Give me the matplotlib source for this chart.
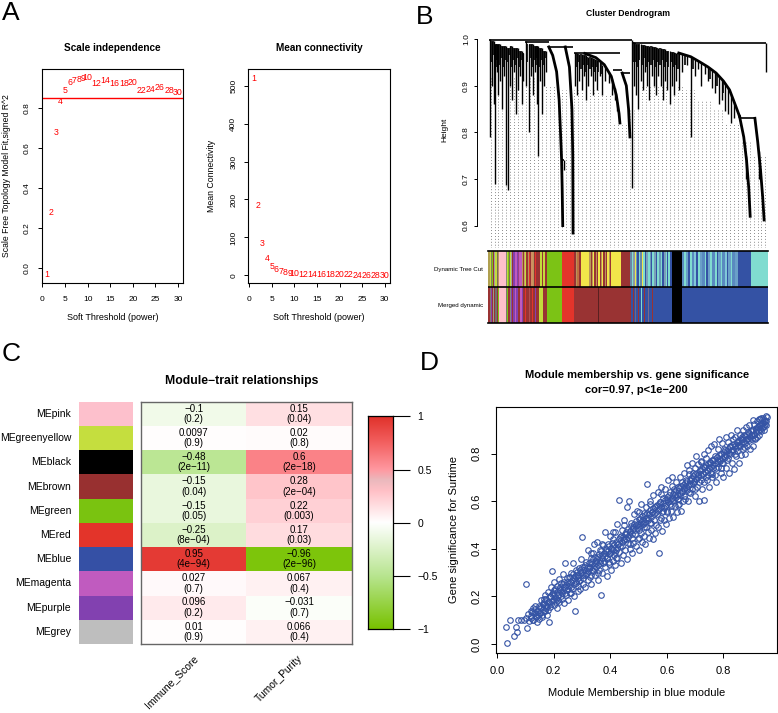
import numpy as np
import matplotlib
matplotlib.use('Agg')
import matplotlib.pyplot as plt
from matplotlib.colors import LinearSegmentedColormap

plt.rcParams['font.family'] = ['Liberation Sans', 'DejaVu Sans']

# ---------------- data ----------------
# panel A: soft threshold selection
powers = [1, 2, 3, 4, 5, 6, 7, 8, 9, 10, 12, 14, 16, 18, 20, 22, 24, 26, 28, 30]
sft_r2 = [-0.03, 0.28, 0.68, 0.835, 0.89, 0.928, 0.94, 0.945, 0.947, 0.953,
          0.925, 0.938, 0.925, 0.923, 0.927, 0.887, 0.893, 0.902, 0.887, 0.88]
mean_k = [520, 185, 83, 43, 24.5, 16, 11, 8, 6, 4.5,
          3, 2, 1.5, 1.2, 1, 0.8, 0.6, 0.5, 0.4, 0.35]

# panel B: dendrogram (leaf position in %, heights)
dendro_merges = [(0, 51.3, 0.997), (51.3, 99.4, 0.991), (13.0, 21.6, 0.993),
                 (21.6, 30.3, 0.983), (30.5, 47.0, 0.969), (44.8, 47.9, 0.934),
                 (47.9, 50.7, 0.927), (90.0, 95.5, 0.83), (26.2, 26.9, 0.74)]
dendro_drops = [
    (0.5, 1.0, 0.79), (1.2, 0.995, 0.90), (1.8, 0.995, 0.86), (2.3, 0.99, 0.69),
    (2.9, 0.99, 0.93), (3.5, 0.99, 0.88), (4.1, 0.99, 0.91), (4.8, 0.985, 0.85),
    (5.4, 0.985, 0.92), (6.2, 0.985, 0.687), (7.0, 0.98, 0.676), (7.6, 0.985, 0.90),
    (8.3, 0.985, 0.87), (9.0, 0.98, 0.93), (9.7, 0.98, 0.84), (10.5, 0.98, 0.89),
    (11.2, 0.975, 0.92), (11.9, 0.975, 0.86), (12.5, 0.97, 0.91),
    (13.3, 0.995, 0.90), (14.5, 0.99, 0.80), (15.2, 0.99, 0.92), (15.9, 0.99, 0.88),
    (16.6, 0.985, 0.93), (17.3, 0.985, 0.86), (17.8, 0.985, 0.75), (18.5, 0.98, 0.91),
    (19.2, 0.98, 0.84), (19.9, 0.975, 0.90), (20.6, 0.975, 0.93), (26.9, 0.74, 0.72),
    (31.0, 0.97, 0.90), (31.8, 0.97, 0.88), (32.6, 0.968, 0.91), (33.4, 0.968, 0.89),
    (34.2, 0.965, 0.92), (35.0, 0.965, 0.87), (35.8, 0.962, 0.90), (36.6, 0.962, 0.92),
    (37.4, 0.96, 0.88), (38.2, 0.958, 0.91), (39.0, 0.955, 0.89), (39.8, 0.95, 0.92),
    (40.6, 0.945, 0.88), (41.9, 0.942, 0.91), (43.2, 0.93, 0.905), (44.4, 0.915, 0.88),
    (45.2, 0.895, 0.87), (46.2, 0.865, 0.845), (51.3, 0.997, 0.68),
    (52.0, 0.994, 0.90), (52.8, 0.99, 0.88), (53.7, 0.99, 0.85), (54.5, 0.99, 0.91),
    (55.3, 0.988, 0.89), (56.1, 0.988, 0.93), (56.9, 0.985, 0.90), (57.7, 0.985, 0.87),
    (58.5, 0.985, 0.92), (59.3, 0.982, 0.90), (60.1, 0.982, 0.88), (60.9, 0.98, 0.92),
    (61.7, 0.98, 0.90), (62.5, 0.978, 0.87), (63.3, 0.978, 0.91), (64.1, 0.975, 0.89),
    (64.9, 0.975, 0.86), (65.7, 0.972, 0.90), (66.5, 0.972, 0.88), (67.3, 0.97, 0.91),
    (68.2, 0.97, 0.89), (69.5, 0.968, 0.93), (71.0, 0.965, 0.945), (72.7, 0.961, 0.79),
    (74.0, 0.956, 0.92), (75.0, 0.953, 0.935), (76.3, 0.948, 0.90), (77.5, 0.944, 0.925),
    (78.7, 0.94, 0.91), (80.0, 0.934, 0.895), (81.2, 0.928, 0.885), (82.5, 0.92, 0.86),
    (83.6, 0.913, 0.87), (84.8, 0.905, 0.845), (85.8, 0.896, 0.84), (87.0, 0.88, 0.82),
    (88.0, 0.866, 0.83), (92.2, 0.75, 0.70), (96.8, 0.76, 0.70), (99.4, 0.991, 0.93)]
# short branches that fill the dense top of each cluster
dendro_twigs = [
    (0.85, 0.995, 0.95), (1.5, 0.995, 0.965), (2.6, 0.99, 0.94), (3.2, 0.99, 0.955),
    (3.8, 0.99, 0.945), (4.45, 0.985, 0.96), (5.1, 0.985, 0.94), (5.8, 0.985, 0.955),
    (6.6, 0.98, 0.95), (7.3, 0.98, 0.965), (7.95, 0.985, 0.94), (8.65, 0.98, 0.955),
    (9.35, 0.98, 0.945), (10.1, 0.98, 0.96), (10.85, 0.975, 0.94), (11.55, 0.975, 0.955),
    (12.2, 0.97, 0.945), (13.9, 0.99, 0.95), (14.85, 0.99, 0.96), (15.55, 0.99, 0.94),
    (16.25, 0.985, 0.955), (16.95, 0.985, 0.945), (17.55, 0.985, 0.96), (18.15, 0.98, 0.94),
    (18.85, 0.98, 0.955), (19.55, 0.975, 0.945), (20.25, 0.975, 0.96),
    (31.4, 0.97, 0.94), (32.2, 0.968, 0.95), (33.0, 0.968, 0.935), (33.8, 0.965, 0.945),
    (34.6, 0.965, 0.93), (35.4, 0.962, 0.945), (36.2, 0.962, 0.935), (37.0, 0.96, 0.94),
    (37.8, 0.958, 0.93), (38.6, 0.955, 0.94), (39.4, 0.952, 0.93), (40.2, 0.948, 0.925),
    (51.7, 0.994, 0.95), (52.4, 0.992, 0.95), (53.25, 0.99, 0.94), (54.1, 0.99, 0.955),
    (54.9, 0.988, 0.945), (55.7, 0.988, 0.96), (56.5, 0.985, 0.94), (57.3, 0.985, 0.95),
    (58.1, 0.985, 0.945), (58.9, 0.982, 0.955), (59.7, 0.982, 0.94), (60.5, 0.98, 0.95),
    (61.3, 0.98, 0.945), (62.1, 0.978, 0.955), (62.9, 0.978, 0.94), (63.7, 0.975, 0.95),
    (64.5, 0.975, 0.94), (65.3, 0.972, 0.95), (66.1, 0.972, 0.94), (66.9, 0.97, 0.945),
    (67.8, 0.97, 0.935), (70.3, 0.967, 0.945), (73.3, 0.959, 0.935), (79.4, 0.937, 0.915),
    (82.0, 0.923, 0.9), (84.2, 0.909, 0.885)]
dendro_arcs = [
    [(21.6, 0.983), (23.0, 0.965), (24.4, 0.93), (25.3, 0.87), (25.8, 0.80),
     (26.2, 0.74), (26.4, 0.68), (26.6, 0.60)],
    [(27.5, 0.983), (29.0, 0.94), (29.9, 0.85), (30.2, 0.75), (30.3, 0.584)],
    [(34.5, 0.969), (38.5, 0.96), (41.5, 0.945), (44.0, 0.92), (45.8, 0.88),
     (46.8, 0.84), (47.1, 0.82)],
    [(47.9, 0.927), (49.4, 0.90), (50.2, 0.85), (50.7, 0.79)],
    [(68.2, 0.97), (72.5, 0.962), (75.7, 0.951), (78.7, 0.94), (81.6, 0.927),
     (84.2, 0.91), (86.4, 0.891), (88.7, 0.855), (90.0, 0.834)],
    [(90.0, 0.834), (91.5, 0.79), (92.5, 0.74), (93.3, 0.68), (93.8, 0.62)],
    [(95.5, 0.83), (96.5, 0.78), (97.5, 0.72), (98.3, 0.66), (98.8, 0.612)]]
guide_start = [0.92, 0.92, 0.92, 0.92, 0.90, 0.89, 0.89, 0.89, 0.88, 0.82,
               0.85, 0.90, 0.90, 0.90, 0.89, 0.87, 0.85, 0.82, 0.78, 0.75]

GY, PK, BR, GN, RD = '#c3dc3c', '#ffc0cb', '#993333', '#7cc315', '#e3342b'
YE, TQ, BL, BK, MG, PU = '#f2e64a', '#80dcd0', '#3452a4', '#000000', '#c05bbf', '#8340b0'
TAN, SB = '#b8965a', '#6b9ab8'
dynamic_colors = [
    (4, '#b0a050'), (3, GY), (4, '#8a7a60'), (3, GN), (4, BR), (3, '#a0a0a0'),
    (4, GY), (3, '#7a6a5a'), (3, TAN), (2, GY), (20, PK),
    (3, '#8a8a7a'), (3, GY), (4, GN), (3, '#8a6a50'), (3, GY), (3, '#a0a0a0'), (3, BR),
    (6, PU), (4, MG), (5, PU), (3, '#a04080'), (7, MG),
    (4, TAN), (3, BR), (4, '#c8a070'), (3, GY), (4, BR), (3, TAN), (5, RD), (3, BR),
    (4, '#d09060'), (3, TAN), (5, BR), (3, RD), (6, BR),
    (6, BR), (4, GY), (5, BR), (4, GY), (6, BR), (45, GN), (37, RD),
    (5, BR), (4, TAN), (5, '#c07040'), (6, BR), (26, YE),
    (4, TAN), (3, BR), (5, TAN), (3, YE), (4, BR), (4, TAN), (4, BR),
    (4, YE), (3, BR), (4, TAN), (3, YE), (5, BR), (4, TAN), (3, BR), (5, YE), (3, TAN), (3, BR),
    (30, YE), (28, BR),
    (6, '#6a88a8'), (4, TQ), (5, '#8a9aa8'), (4, YE), (3, SB), (5, BL), (4, TQ),
    (6, '#6a88a8'), (3, YE), (5, TQ), (4, BL), (6, '#7aa0b8'), (4, TQ), (5, SB), (3, BL),
    (6, TQ), (4, '#7aa0b8'), (5, BL), (6, TQ), (4, SB), (5, TQ), (4, BL), (6, '#7aa0b8'),
    (5, TQ), (3, BL), (4, TQ), (6, BL), (30, BK),
    (8, '#5a8ac0'), (5, TQ), (7, '#6aa0c8'), (4, BL), (6, TQ), (8, '#5a8ac0'), (5, '#80c8d8'),
    (6, BL), (7, TQ), (5, '#6aa0c8'), (8, '#5a8ac0'), (4, TQ), (6, BL), (7, '#6aa0c8'),
    (5, TQ), (8, '#5a8ac0'), (6, TQ), (5, BL), (7, '#6aa0c8'), (4, TQ), (8, '#5a8ac0'),
    (6, '#80c8d8'), (5, BL), (7, '#6aa0c8'), (5, TQ), (8, '#5a8ac0'), (10, '#6aa0c8'),
    (37, BL), (53, TQ)]
merged_colors = [
    (4, BR), (3, '#8a7a6a'), (4, PU), (3, BR), (4, '#9a9a8a'), (3, BR), (4, '#707070'),
    (3, BR), (3, GN), (2, BR), (20, PK),
    (4, '#7a7a6a'), (3, GN), (4, BR), (3, '#8a8a7a'), (3, PU), (3, BR),
    (6, PU), (5, MG), (6, PU), (4, BR), (6, MG), (5, PU),
    (6, BR), (3, RD), (7, BR), (3, '#b05050'), (8, BR), (3, RD), (6, BR), (3, PU), (9, BR),
    (12, GY), (10, BR), (45, GN), (37, RD), (73, BR), (2, '#5a2020'), (95, BR),
    (6, BL), (3, BR), (5, BL), (3, '#6a6a8a'), (6, BL), (3, BR), (5, BL), (2, TQ),
    (7, BL), (3, BR), (8, BL), (3, '#7a6a8a'), (10, BL), (3, BR), (56, BL),
    (30, BK), (260, BL)]

# panel C: module-trait relationships
modules = ['MEpink', 'MEgreenyellow', 'MEblack', 'MEbrown', 'MEgreen',
           'MEred', 'MEblue', 'MEmagenta', 'MEpurple', 'MEgrey']
module_colors = ['#fdc0cc', '#c5de3e', '#000000', '#983030', '#7ac310',
                 '#e3342a', '#3550a5', '#c05bbf', '#8241b0', '#bebebe']
traits = ['Immune_Score', 'Tumor_Purity']
cor_immune = [-0.1, 0.0097, -0.48, -0.15, -0.15, -0.25, 0.95, 0.027, 0.096, 0.01]
p_immune = ['0.2', '0.9', '2e\u221211', '0.04', '0.05', '8e\u221204', '4e\u221294', '0.7', '0.2', '0.9']
cor_tumor = [0.15, 0.02, 0.6, 0.28, 0.22, 0.17, -0.96, 0.067, -0.031, 0.066]
p_tumor = ['0.04', '0.8', '2e\u221218', '2e\u221204', '0.003', '0.03', '2e\u221296', '0.4', '0.7', '0.4']

# panel D: module membership vs gene significance (blue module)
mm = [0.030, 0.035, 0.045, 0.060, 0.065, 0.070, 0.075, 0.085, 0.095, 0.100,
      0.102, 0.105, 0.110, 0.112, 0.118, 0.120, 0.125, 0.128, 0.132, 0.135,
      0.138, 0.140, 0.145, 0.148, 0.150, 0.152, 0.155, 0.158, 0.160, 0.162,
      0.165, 0.168, 0.170, 0.172, 0.175, 0.178, 0.180, 0.182, 0.185, 0.188,
      0.190, 0.192, 0.195, 0.198, 0.200, 0.202, 0.205, 0.208, 0.210, 0.212,
      0.215, 0.218, 0.220, 0.222, 0.225, 0.228, 0.230, 0.232, 0.235, 0.238,
      0.240, 0.242, 0.245, 0.248, 0.250, 0.252, 0.255, 0.258, 0.260, 0.262,
      0.265, 0.268, 0.270, 0.272, 0.275, 0.278, 0.280, 0.282, 0.285, 0.288,
      0.290, 0.292, 0.295, 0.298, 0.300, 0.302, 0.305, 0.308, 0.310, 0.312,
      0.315, 0.318, 0.320, 0.322, 0.325, 0.328, 0.330, 0.332, 0.335, 0.338,
      0.340, 0.342, 0.345, 0.348, 0.350, 0.352, 0.355, 0.358, 0.360, 0.362,
      0.365, 0.368, 0.370, 0.372, 0.375, 0.378, 0.380, 0.382, 0.385, 0.388,
      0.390, 0.392, 0.395, 0.398, 0.400, 0.402, 0.405, 0.408, 0.410, 0.412,
      0.415, 0.418, 0.420, 0.422, 0.425, 0.428, 0.430, 0.432, 0.435, 0.438,
      0.440, 0.442, 0.445, 0.448, 0.450, 0.452, 0.455, 0.458, 0.460, 0.462,
      0.465, 0.468, 0.470, 0.472, 0.475, 0.478, 0.480, 0.482, 0.485, 0.488,
      0.490, 0.492, 0.495, 0.498, 0.500, 0.502, 0.505, 0.508, 0.510, 0.512,
      0.515, 0.518, 0.520, 0.522, 0.525, 0.528, 0.530, 0.532, 0.535, 0.538,
      0.540, 0.542, 0.545, 0.548, 0.550, 0.552, 0.555, 0.558, 0.560, 0.562,
      0.565, 0.568, 0.570, 0.572, 0.575, 0.578, 0.580, 0.582, 0.585, 0.588,
      0.590, 0.592, 0.595, 0.598, 0.600, 0.602, 0.605, 0.608, 0.610, 0.612,
      0.615, 0.618, 0.620, 0.622, 0.625, 0.628, 0.630, 0.632, 0.635, 0.638,
      0.640, 0.642, 0.645, 0.648, 0.650, 0.652, 0.655, 0.658, 0.660, 0.662,
      0.665, 0.668, 0.670, 0.672, 0.675, 0.678, 0.680, 0.682, 0.685, 0.688,
      0.690, 0.692, 0.695, 0.698, 0.700, 0.702, 0.705, 0.708, 0.710, 0.712,
      0.715, 0.718, 0.720, 0.722, 0.725, 0.728, 0.730, 0.732, 0.735, 0.738,
      0.740, 0.742, 0.745, 0.748, 0.750, 0.752, 0.755, 0.758, 0.760, 0.762,
      0.765, 0.768, 0.770, 0.772, 0.775, 0.778, 0.780, 0.782, 0.785, 0.788,
      0.790, 0.792, 0.795, 0.798, 0.800, 0.802, 0.805, 0.808, 0.810, 0.812,
      0.815, 0.818, 0.820, 0.822, 0.825, 0.828, 0.830, 0.832, 0.835, 0.838,
      0.840, 0.842, 0.845, 0.848, 0.850, 0.852, 0.855, 0.858, 0.860, 0.862,
      0.865, 0.868, 0.870, 0.872, 0.875, 0.878, 0.880, 0.882, 0.885, 0.888,
      0.890, 0.892, 0.895, 0.898, 0.900, 0.902, 0.905, 0.908, 0.910, 0.912,
      0.915, 0.918, 0.920, 0.922, 0.925, 0.928, 0.930, 0.932, 0.935, 0.938,
      0.940, 0.942, 0.945, 0.948, 0.950, 0.952, 0.955, 0.930, 0.905, 0.945]
gs = [0.072, 0.003, 0.100, 0.035, 0.072, 0.048, 0.100, 0.102, 0.100, 0.250,
      0.108, 0.068, 0.125, 0.095, 0.140, 0.110, 0.150, 0.100, 0.128, 0.160,
      0.118, 0.092, 0.140, 0.105, 0.155, 0.130, 0.185, 0.120, 0.145, 0.168,
      0.190, 0.140, 0.205, 0.165, 0.120, 0.220, 0.178, 0.090, 0.200, 0.155,
      0.240, 0.305, 0.180, 0.215, 0.260, 0.165, 0.232, 0.190, 0.150, 0.245,
      0.205, 0.272, 0.175, 0.228, 0.258, 0.190, 0.212, 0.295, 0.170, 0.240,
      0.340, 0.205, 0.262, 0.225, 0.185, 0.280, 0.245, 0.215, 0.300, 0.262,
      0.230, 0.340, 0.275, 0.200, 0.138, 0.310, 0.255, 0.290, 0.222, 0.320,
      0.265, 0.230, 0.298, 0.355, 0.450, 0.275, 0.250, 0.322, 0.290, 0.240,
      0.345, 0.300, 0.268, 0.395, 0.320, 0.280, 0.360, 0.250, 0.335, 0.305,
      0.380, 0.420, 0.290, 0.350, 0.325, 0.430, 0.270, 0.365, 0.310, 0.395,
      0.340, 0.205, 0.375, 0.300, 0.415, 0.350, 0.470, 0.325, 0.390, 0.285,
      0.360, 0.420, 0.335, 0.455, 0.380, 0.310, 0.400, 0.350, 0.440, 0.372,
      0.330, 0.470, 0.395, 0.360, 0.505, 0.420, 0.385, 0.605, 0.450, 0.340,
      0.410, 0.480, 0.375, 0.440, 0.520, 0.395, 0.460, 0.355, 0.575, 0.425,
      0.600, 0.470, 0.400, 0.510, 0.445, 0.380, 0.490, 0.425, 0.545, 0.460,
      0.410, 0.500, 0.560, 0.440, 0.480, 0.395, 0.525, 0.465, 0.590, 0.430,
      0.505, 0.455, 0.550, 0.420, 0.490, 0.575, 0.670, 0.470, 0.530, 0.445,
      0.600, 0.510, 0.480, 0.555, 0.440, 0.625, 0.520, 0.465, 0.580, 0.500,
      0.545, 0.640, 0.490, 0.380, 0.595, 0.530, 0.660, 0.475, 0.560, 0.615,
      0.520, 0.580, 0.650, 0.505, 0.610, 0.555, 0.690, 0.530, 0.590, 0.640,
      0.560, 0.700, 0.600, 0.535, 0.650, 0.580, 0.625, 0.680, 0.555, 0.610,
      0.660, 0.590, 0.700, 0.625, 0.560, 0.680, 0.640, 0.600, 0.720, 0.655,
      0.610, 0.690, 0.645, 0.750, 0.600, 0.670, 0.715, 0.635, 0.690, 0.760,
      0.650, 0.720, 0.680, 0.620, 0.740, 0.695, 0.790, 0.660, 0.710, 0.755,
      0.600, 0.730, 0.690, 0.770, 0.650, 0.720, 0.800, 0.605, 0.745, 0.700,
      0.780, 0.690, 0.815, 0.740, 0.660, 0.760, 0.720, 0.830, 0.700, 0.775,
      0.740, 0.840, 0.710, 0.790, 0.680, 0.760, 0.820, 0.745, 0.860, 0.770,
      0.720, 0.800, 0.845, 0.760, 0.700, 0.820, 0.785, 0.870, 0.740, 0.810,
      0.780, 0.850, 0.720, 0.830, 0.800, 0.880, 0.760, 0.815, 0.860, 0.735,
      0.830, 0.870, 0.790, 0.900, 0.810, 0.850, 0.760, 0.880, 0.830, 0.795,
      0.860, 0.900, 0.820, 0.880, 0.845, 0.800, 0.910, 0.860, 0.830, 0.890,
      0.855, 0.920, 0.820, 0.880, 0.900, 0.860, 0.830, 0.925, 0.880, 0.865,
      0.900, 0.935, 0.870, 0.910, 0.945, 0.880, 0.920, 0.950, 0.895, 0.930,
      0.910, 0.950, 0.940, 0.925, 0.960, 0.935, 0.955, 0.945, 0.940, 0.900]
# core of the band (points close to the trend)
mm_core = [0.121, 0.124, 0.127, 0.131, 0.134, 0.137, 0.141, 0.144, 0.147, 0.151,
           0.154, 0.157, 0.161, 0.164, 0.167, 0.171, 0.174, 0.177, 0.181, 0.184,
           0.187, 0.191, 0.194, 0.197, 0.201, 0.204, 0.207, 0.211, 0.214, 0.217,
           0.221, 0.224, 0.227, 0.231, 0.234, 0.237, 0.241, 0.244, 0.247, 0.251,
           0.254, 0.257, 0.261, 0.264, 0.267, 0.271, 0.274, 0.277, 0.281, 0.284,
           0.287, 0.291, 0.294, 0.297, 0.301, 0.304, 0.307, 0.311, 0.314, 0.317,
           0.321, 0.324, 0.327, 0.331, 0.334, 0.337, 0.341, 0.344, 0.347, 0.351,
           0.354, 0.357, 0.361, 0.364, 0.367, 0.371, 0.374, 0.377, 0.381, 0.384,
           0.387, 0.391, 0.394, 0.397, 0.401, 0.404, 0.407, 0.411, 0.414, 0.417,
           0.421, 0.424, 0.427, 0.431, 0.434, 0.437, 0.441, 0.444, 0.447, 0.451,
           0.454, 0.457, 0.461, 0.464, 0.467, 0.471, 0.474, 0.477, 0.481, 0.484,
           0.487, 0.491, 0.494, 0.497, 0.501, 0.504, 0.507, 0.511, 0.514, 0.517,
           0.521, 0.524, 0.527, 0.531, 0.534, 0.537, 0.541, 0.544, 0.547, 0.551,
           0.554, 0.557, 0.561, 0.564, 0.567, 0.571, 0.574, 0.577, 0.581, 0.584,
           0.587, 0.591, 0.594, 0.597, 0.601, 0.604, 0.607, 0.611, 0.614, 0.617,
           0.621, 0.624, 0.627, 0.631, 0.634, 0.637, 0.641, 0.644, 0.647, 0.651,
           0.654, 0.657, 0.661, 0.664, 0.667, 0.671, 0.674, 0.677, 0.681, 0.684,
           0.687, 0.691, 0.694, 0.697, 0.701, 0.704, 0.707, 0.711, 0.714, 0.717,
           0.721, 0.724, 0.727, 0.731, 0.734, 0.737, 0.741, 0.744, 0.747, 0.751,
           0.754, 0.757, 0.761, 0.764, 0.767, 0.771, 0.774, 0.777, 0.781, 0.784,
           0.787, 0.791, 0.794, 0.797, 0.801, 0.804, 0.807, 0.811, 0.814, 0.817,
           0.821, 0.824, 0.827, 0.831, 0.834, 0.837, 0.841, 0.844, 0.847, 0.851,
           0.854, 0.857, 0.861, 0.864, 0.867, 0.871, 0.874, 0.877, 0.881, 0.884,
           0.887, 0.891, 0.894, 0.897, 0.901, 0.904, 0.907, 0.911, 0.914, 0.917,
           0.921, 0.924, 0.927, 0.931, 0.934, 0.937, 0.941, 0.944, 0.947, 0.951,
           0.200, 0.215, 0.260, 0.285, 0.330, 0.355, 0.395, 0.420, 0.470, 0.500,
           0.520, 0.545, 0.575, 0.600, 0.640, 0.660, 0.700, 0.730, 0.760, 0.790,
           0.330, 0.370, 0.410, 0.450, 0.500, 0.540, 0.580, 0.620, 0.680, 0.720]
gs_core = [0.118, 0.135, 0.102, 0.128, 0.146, 0.115, 0.139, 0.122, 0.158, 0.131,
           0.149, 0.112, 0.166, 0.138, 0.175, 0.152, 0.187, 0.160, 0.141, 0.178,
           0.196, 0.168, 0.210, 0.183, 0.225, 0.197, 0.176, 0.218, 0.204, 0.229,
           0.238, 0.200, 0.219, 0.252, 0.226, 0.262, 0.213, 0.247, 0.275, 0.232,
           0.258, 0.281, 0.240, 0.270, 0.295, 0.252, 0.284, 0.266, 0.302, 0.275,
           0.290, 0.312, 0.268, 0.301, 0.322, 0.288, 0.309, 0.331, 0.295, 0.318,
           0.307, 0.340, 0.322, 0.346, 0.312, 0.358, 0.333, 0.321, 0.365, 0.342,
           0.355, 0.332, 0.377, 0.348, 0.389, 0.362, 0.341, 0.384, 0.370, 0.398,
           0.362, 0.392, 0.410, 0.378, 0.402, 0.385, 0.423, 0.396, 0.415, 0.388,
           0.430, 0.405, 0.418, 0.442, 0.412, 0.455, 0.427, 0.448, 0.435, 0.462,
           0.440, 0.472, 0.451, 0.485, 0.458, 0.476, 0.494, 0.463, 0.482, 0.505,
           0.478, 0.516, 0.489, 0.506, 0.524, 0.495, 0.512, 0.536, 0.502, 0.521,
           0.540, 0.512, 0.530, 0.552, 0.520, 0.545, 0.563, 0.532, 0.555, 0.571,
           0.548, 0.575, 0.556, 0.583, 0.562, 0.590, 0.568, 0.597, 0.575, 0.554,
           0.592, 0.572, 0.605, 0.583, 0.618, 0.596, 0.625, 0.603, 0.580, 0.612,
           0.628, 0.604, 0.640, 0.617, 0.648, 0.626, 0.609, 0.655, 0.636, 0.662,
           0.643, 0.668, 0.650, 0.677, 0.658, 0.684, 0.664, 0.640, 0.690, 0.672,
           0.698, 0.676, 0.705, 0.684, 0.713, 0.692, 0.720, 0.701, 0.680, 0.727,
           0.708, 0.735, 0.716, 0.742, 0.724, 0.750, 0.731, 0.712, 0.757, 0.739,
           0.764, 0.745, 0.771, 0.752, 0.779, 0.760, 0.740, 0.786, 0.767, 0.793,
           0.774, 0.800, 0.781, 0.760, 0.807, 0.790, 0.814, 0.796, 0.775, 0.821,
           0.803, 0.828, 0.810, 0.835, 0.816, 0.842, 0.797, 0.823, 0.849, 0.830,
           0.856, 0.837, 0.862, 0.843, 0.869, 0.850, 0.828, 0.874, 0.857, 0.880,
           0.864, 0.888, 0.870, 0.895, 0.877, 0.900, 0.884, 0.862, 0.906, 0.890,
           0.912, 0.896, 0.918, 0.903, 0.925, 0.909, 0.930, 0.915, 0.937, 0.922,
           0.205, 0.185, 0.215, 0.245, 0.290, 0.300, 0.345, 0.360, 0.420, 0.445,
           0.490, 0.510, 0.520, 0.560, 0.585, 0.620, 0.650, 0.680, 0.715, 0.740,
           0.380, 0.420, 0.470, 0.500, 0.555, 0.590, 0.630, 0.665, 0.730, 0.765]

# ---------------- figure ----------------
W, H = 778, 713
fig = plt.figure(figsize=(W / 100, H / 100), dpi=100)


def add_ax(x0, y0, x1, y1):
    return fig.add_axes([x0 / W, 1 - y1 / H, (x1 - x0) / W, (y1 - y0) / H])


def ftext(x, y, s, **kw):
    return fig.text(x / W, 1 - y / H, s, **kw)


def r_style(ax, xt, xl, yt, yl, fs, tl, padx, pady):
    ax.set_xticks(xt)
    ax.set_xticklabels(xl)
    ax.set_yticks(yt)
    ax.set_yticklabels(yl, rotation=90, va='center')
    ax.tick_params(direction='out', length=tl, width=0.7, labelsize=fs)
    ax.tick_params(axis='x', pad=padx)
    ax.tick_params(axis='y', pad=pady)
    for s in ax.spines.values():
        s.set_linewidth(0.8)


# ---- panel A ----
ax1 = add_ax(41.7, 69, 183.3, 283)
for p, v in zip(powers, sft_r2):
    ax1.text(p, v, str(p), color='red', ha='center', va='center', fontsize=6.3)
ax1.axhline(0.85, color='red', lw=1)
ax1.set_xlim(-0.16, 31.16)
ax1.set_ylim(-0.075, 0.995)
r_style(ax1, range(0, 31, 5), [str(v) for v in range(0, 31, 5)],
        [0, 0.2, 0.4, 0.6, 0.8], ['0.0', '0.2', '0.4', '0.6', '0.8'], 6, 3, 6.5, 5)

ax2 = add_ax(248.3, 69, 390, 283)
for p, v in zip(powers, mean_k):
    ax2.text(p, v, str(p), color='red', ha='center', va='center', fontsize=6.3)
ax2.set_xlim(-0.16, 31.16)
ax2.set_ylim(-20.3, 544)
r_style(ax2, range(0, 31, 5), [str(v) for v in range(0, 31, 5)],
        range(0, 501, 100), [str(v) for v in range(0, 501, 100)], 6, 3, 6.5, 5)

ftext(112.5, 48, 'Scale independence', ha='center', va='center', fontsize=7.2, fontweight='bold')
ftext(319, 48, 'Mean connectivity', ha='center', va='center', fontsize=7.2, fontweight='bold')
ftext(112.5, 318, 'Soft Threshold (power)', ha='center', va='center', fontsize=6.5)
ftext(319, 318, 'Soft Threshold (power)', ha='center', va='center', fontsize=6.5)
ftext(6.5, 176, 'Scale Free Topology Model Fit,signed R^2', ha='center', va='center',
      rotation=90, fontsize=6.2)
ftext(212, 176, 'Mean Connectivity', ha='center', va='center', rotation=90, fontsize=6.3)

# ---- panel B ----
axd = add_ax(487.7, 35, 768.3, 248)
for i in range(70):
    gx = (i + 0.5) * 100 / 70
    top = guide_start[min(int(gx // 5), 19)]
    axd.vlines(gx, 0.552, top, color='#666666', lw=0.6, linestyles=(0, (1, 2.5)), zorder=1)
for x0, x1, h in dendro_merges:
    axd.hlines(h, x0, x1, color='black', lw=1.2, zorder=2)
for x, top, bottom in dendro_drops:
    axd.vlines(x, bottom, top, color='black', lw=1.0, zorder=2)
for x, top, bottom in dendro_twigs:
    axd.vlines(x, bottom, top, color='black', lw=1.2, zorder=2)
for arc in dendro_arcs:
    xs, hs = zip(*arc)
    axd.plot(xs, hs, color='black', lw=2.0, zorder=2)
axd.set_xlim(-0.3, 100.3)
axd.set_ylim(0.552, 1.0086)
for side in ['top', 'right', 'bottom']:
    axd.spines[side].set_visible(False)
axd.spines['left'].set_position(('outward', 7.9))
axd.spines['left'].set_bounds(0.6, 1.0)
axd.spines['left'].set_linewidth(0.7)
axd.set_xticks([])
axd.set_yticks([0.6, 0.7, 0.8, 0.9, 1.0])
axd.set_yticklabels(['0.6', '0.7', '0.8', '0.9', '1.0'], rotation=90, va='center')
axd.tick_params(axis='y', direction='out', length=2.4, width=0.7, labelsize=6, pad=2.5)
ftext(628, 14, 'Cluster Dendrogram', ha='center', va='center', fontsize=6.2, fontweight='bold')
ftext(445, 130, 'Height', ha='center', va='center', rotation=90, fontsize=6)

axb = add_ax(488.3, 251, 768.3, 323)
for row, stripes in [(1, dynamic_colors), (0, merged_colors)]:
    pos = 0
    for w, c in stripes:
        axb.broken_barh([(pos, w)], (row, 1), facecolors=c, edgecolor='none')
        pos += w
axb.set_xlim(0, 840)
axb.set_ylim(0, 2)
axb.axhline(1, color='black', lw=1.2)
axb.set_xticks([])
axb.set_yticks([])
for side in ['left', 'right']:
    axb.spines[side].set_visible(False)
for side in ['top', 'bottom']:
    axb.spines[side].set_linewidth(1.2)
ftext(482.7, 269, 'Dynamic Tree Cut', ha='right', va='center', fontsize=4.4)
ftext(482.7, 305, 'Merged dynamic', ha='right', va='center', fontsize=4.4)

# ---- panel C ----
cmap = LinearSegmentedColormap.from_list('gwr', [
    (0.0, '#78c200'), (0.25, '#b8e590'), (0.5, '#ffffff'), (0.65, '#ffc0c6'),
    (0.7, '#ebb9bd'), (0.75, '#ff98a0'), (0.875, '#f36161'), (1.0, '#e0312a')])

axm = add_ax(79.3, 401.7, 132.7, 644)
axm.barh(np.arange(len(modules)), 1, height=1, color=module_colors, left=0)
axm.set_xlim(0, 1)
axm.set_ylim(len(modules) - 0.5, -0.5)
axm.axis('off')
for i, name in enumerate(modules):
    axm.text(-0.155, i, name, ha='right', va='center', fontsize=7.5)

axh = add_ax(141, 401.7, 351.7, 644)
mat = np.array([cor_immune, cor_tumor]).T
axh.pcolormesh(np.arange(3), np.arange(len(modules) + 1), mat, cmap=cmap, vmin=-1, vmax=1)
axh.set_xlim(0, 2)
axh.set_ylim(len(modules), 0)
axh.set_xticks([])
axh.set_yticks([])
for s in axh.spines.values():
    s.set_color('#666666')
    s.set_linewidth(1)
for i in range(len(modules)):
    for j, (cors, ps) in enumerate([(cor_immune, p_immune), (cor_tumor, p_tumor)]):
        lab = ('%g' % cors[i]).replace('-', '\u2212') + '\n(' + ps[i] + ')'
        axh.text(j + 0.5, i + 0.5, lab, ha='center', va='center', fontsize=7, linespacing=1.05)
ftext(242, 381, 'Module\u2212trait relationships', ha='center', va='center',
      fontsize=8.8, fontweight='bold')
ftext(196, 657, traits[0], ha='right', va='center', rotation=45, rotation_mode='anchor', fontsize=7.5)
ftext(301, 657, traits[1], ha='right', va='center', rotation=45, rotation_mode='anchor', fontsize=7.5)

axc = add_ax(368.3, 416.3, 393.3, 629.3)
axc.imshow(np.linspace(-1, 1, 256).reshape(-1, 1), cmap=cmap, aspect='auto',
           origin='lower', extent=[0, 1, -1, 1])
axc.set_xticks([])
axc.yaxis.tick_right()
axc.set_yticks([-1, -0.5, 0, 0.5, 1])
axc.set_yticklabels(['\u22121', '\u22120.5', '0', '0.5', '1'])
axc.tick_params(axis='y', direction='out', length=12.2, width=0.8, labelsize=7.5, pad=5)
for s in axc.spines.values():
    s.set_linewidth(0.9)

# ---- panel D ----
axs = add_ax(496, 406.7, 777.3, 652.7)
axs.plot(mm + mm_core, gs + gs_core, 'o', mfc='none', mec='#3554a5', ms=4, mew=0.8)
axs.set_xlim(-0.0046, 0.991)
axs.set_ylim(-0.037, 0.997)
ticks_d = [0.0, 0.2, 0.4, 0.6, 0.8]
r_style(axs, ticks_d, ['%.1f' % t for t in ticks_d], ticks_d, ['%.1f' % t for t in ticks_d],
        8, 3.4, 6, 7)
ftext(636.6, 375, 'Module membership vs. gene significance', ha='center', va='center',
      fontsize=8, fontweight='bold')
ftext(636.6, 390, 'cor=0.97, p<1e\u2212200', ha='center', va='center', fontsize=8, fontweight='bold')
ftext(636.6, 693, 'Module Membership in blue module', ha='center', va='center', fontsize=8)
ftext(454, 529.7, 'Gene significance for Surtime', ha='center', va='center', rotation=90, fontsize=8)

# panel letters
ftext(11, 12.5, 'A', ha='center', va='center', fontsize=19)
ftext(425, 16.7, 'B', ha='center', va='center', fontsize=19)
ftext(11, 354, 'C', ha='center', va='center', fontsize=19)
ftext(429, 362.6, 'D', ha='center', va='center', fontsize=19)

fig.savefig('out.png', dpi=100)
